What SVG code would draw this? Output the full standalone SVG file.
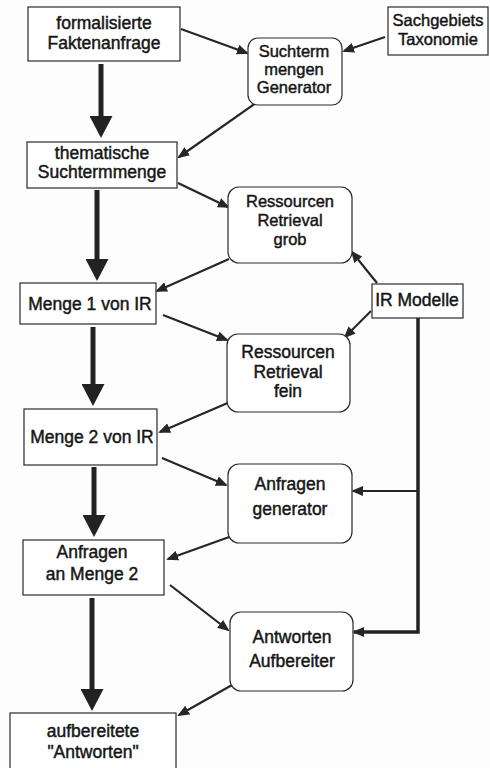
<svg xmlns="http://www.w3.org/2000/svg" width="490" height="768" viewBox="0 0 490 768">
  <style>
    .box { fill: #ffffff; stroke: #2a2a2a; stroke-width: 1.2; }
    .lbl { font-family: "Liberation Sans", Arial, sans-serif; font-size: 17.5px; fill: #161616; text-anchor: middle; stroke: #161616; stroke-width: 0.45; }
    .sm { font-size: 16.5px; }
    .thick { stroke: #222; stroke-width: 5; fill: none; }
    .thin { stroke: #262626; stroke-width: 2.2; fill: none; }
    .bus { stroke: #222; stroke-width: 3.5; fill: none; }
  </style>
  <defs>
    <marker id="bigHead" viewBox="0 0 22 23" markerWidth="22" markerHeight="23" refX="5" refY="11.5" orient="auto" markerUnits="userSpaceOnUse">
      <path d="M0,0 L22,11.5 L0,23 z" fill="#222"/>
    </marker>
    <marker id="smallHead" viewBox="0 0 12 10" markerWidth="12" markerHeight="10" refX="10" refY="5" orient="auto" markerUnits="userSpaceOnUse">
      <path d="M0,0 L12,5 L0,10 z" fill="#262626"/>
    </marker>
  </defs>

  <rect x="0" y="0" width="490" height="768" fill="#fdfdfd"/>

  <!-- connectors -->
  <g id="connectors">
    <!-- main flow, heavy arrows -->
    <line class="thick" x1="101" y1="64" x2="101" y2="121" marker-end="url(#bigHead)"/>
    <line class="thick" x1="97" y1="190" x2="97" y2="264" marker-end="url(#bigHead)"/>
    <line class="thick" x1="93" y1="327" x2="93" y2="389" marker-end="url(#bigHead)"/>
    <line class="thick" x1="94" y1="467" x2="94" y2="520" marker-end="url(#bigHead)"/>
    <line class="thick" x1="92" y1="598" x2="92" y2="694" marker-end="url(#bigHead)"/>

    <!-- side process arrows -->
    <line class="thin" x1="181" y1="29" x2="247" y2="53" marker-end="url(#smallHead)"/>
    <line class="thin" x1="385" y1="37" x2="344" y2="51" marker-end="url(#smallHead)"/>
    <line class="thin" x1="256" y1="103" x2="179" y2="157" marker-end="url(#smallHead)"/>
    <line class="thin" x1="178" y1="183" x2="228" y2="207" marker-end="url(#smallHead)"/>
    <line class="thin" x1="229" y1="259" x2="157" y2="291" marker-end="url(#smallHead)"/>
    <line class="thin" x1="163" y1="315" x2="227" y2="340" marker-end="url(#smallHead)"/>
    <line class="thin" x1="377" y1="283" x2="352" y2="252" marker-end="url(#smallHead)"/>
    <line class="thin" x1="371" y1="311" x2="345" y2="337" marker-end="url(#smallHead)"/>
    <line class="thin" x1="230" y1="402" x2="160" y2="432" marker-end="url(#smallHead)"/>
    <line class="thin" x1="162" y1="458" x2="226" y2="485" marker-end="url(#smallHead)"/>
    <line class="thin" x1="232" y1="536" x2="168" y2="559" marker-end="url(#smallHead)"/>
    <line class="thin" x1="170" y1="585" x2="228" y2="630" marker-end="url(#smallHead)"/>
    <line class="thin" x1="232" y1="685" x2="179" y2="715" marker-end="url(#smallHead)"/>

    <!-- IR Modelle feed line -->
    <polyline class="bus" points="418,318 418,632 354,632" marker-end="url(#smallHead)"/>
    <line class="thin" x1="418" y1="491" x2="353" y2="491" marker-end="url(#smallHead)"/>
  </g>

  <!-- nodes -->
  <g id="faktenanfrage">
    <rect class="box" x="28" y="7" width="152" height="54"/>
    <text class="lbl" x="104" y="29">formalisierte</text>
    <text class="lbl" x="104" y="49">Faktenanfrage</text>
  </g>
  <g id="taxonomie">
    <rect class="box" x="388" y="7" width="100" height="48"/>
    <text class="lbl sm" x="438" y="26">Sachgebiets</text>
    <text class="lbl sm" x="438" y="45">Taxonomie</text>
  </g>
  <g id="generator">
    <rect class="box" x="248" y="38" width="94" height="67" rx="10"/>
    <text class="lbl sm" x="294" y="57">Suchterm</text>
    <text class="lbl sm" x="294" y="75">mengen</text>
    <text class="lbl sm" x="294" y="93">Generator</text>
  </g>
  <g id="suchtermmenge">
    <rect class="box" x="27" y="142" width="150" height="46"/>
    <text class="lbl" x="102" y="159">thematische</text>
    <text class="lbl" x="102" y="178">Suchtermmenge</text>
  </g>
  <g id="retrieval-grob">
    <rect class="box" x="228" y="187" width="124" height="76" rx="11"/>
    <text class="lbl sm" x="290" y="207">Ressourcen</text>
    <text class="lbl sm" x="290" y="226">Retrieval</text>
    <text class="lbl sm" x="290" y="245">grob</text>
  </g>
  <g id="menge1">
    <rect class="box" x="20" y="283" width="136" height="41"/>
    <text class="lbl" x="90" y="310">Menge 1 von IR</text>
  </g>
  <g id="ir-modelle">
    <rect class="box" x="372" y="284" width="91" height="34"/>
    <text class="lbl" x="417" y="306">IR Modelle</text>
  </g>
  <g id="retrieval-fein">
    <rect class="box" x="227" y="334" width="123" height="78" rx="11"/>
    <text class="lbl" x="288" y="358">Ressourcen</text>
    <text class="lbl" x="288" y="378">Retrieval</text>
    <text class="lbl" x="288" y="397">fein</text>
  </g>
  <g id="menge2">
    <rect class="box" x="24" y="409" width="133" height="56"/>
    <text class="lbl" x="92" y="443">Menge 2 von IR</text>
  </g>
  <g id="anfragen-generator">
    <rect class="box" x="228" y="464" width="124" height="79" rx="11"/>
    <text class="lbl" x="290" y="490">Anfragen</text>
    <text class="lbl" x="290" y="515">generator</text>
  </g>
  <g id="anfragen-menge2">
    <rect class="box" x="23" y="540" width="141" height="55"/>
    <text class="lbl" x="92" y="558">Anfragen</text>
    <text class="lbl" x="92" y="580">an Menge 2</text>
  </g>
  <g id="aufbereiter">
    <rect class="box" x="230" y="612" width="123" height="79" rx="11"/>
    <text class="lbl" x="292" y="643">Antworten</text>
    <text class="lbl" x="292" y="667">Aufbereiter</text>
  </g>
  <g id="antworten">
    <rect class="box" x="10" y="713" width="166" height="70"/>
    <text class="lbl" x="93" y="737">aufbereitete</text>
    <text class="lbl" x="93" y="758">"Antworten"</text>
  </g>
</svg>
